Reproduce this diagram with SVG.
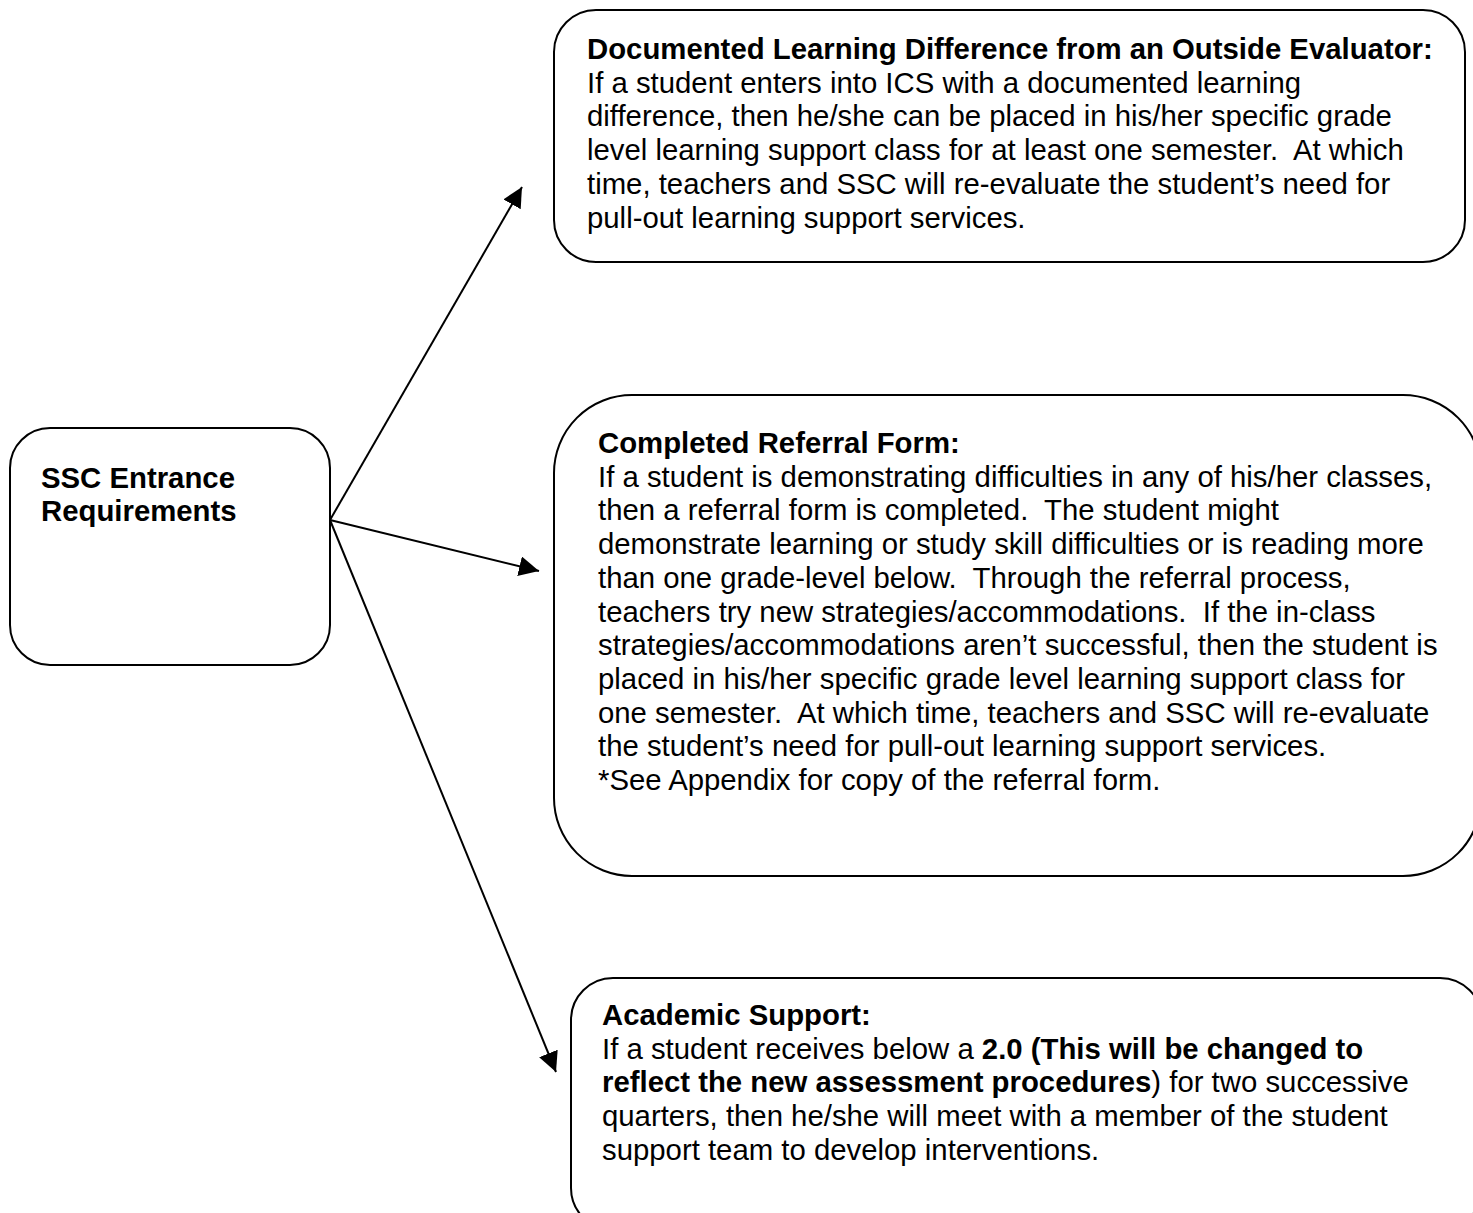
<svg xmlns="http://www.w3.org/2000/svg" width="1473" height="1213" viewBox="0 0 1473 1213">
<style>
.box{fill:#fff;stroke:#000;stroke-width:2}
.t{font-family:"Liberation Sans",Arial,Helvetica,sans-serif;font-size:29.33px;fill:#000;white-space:pre}
.b{font-weight:bold}
.c{stroke:#000;stroke-width:2;fill:none}
</style>
<defs>
<marker id="ah" markerUnits="userSpaceOnUse" markerWidth="22" markerHeight="22" refX="20" refY="10" orient="auto" viewBox="0 0 22 22">
<path d="M0,0 L20,10 L0,20 z" fill="#000"/>
</marker>
</defs>
<rect width="1473" height="1213" fill="#fff"/>
<g id="n-ssc">
<rect class="box" x="10" y="428" width="320" height="237" rx="40"/>
<text class="t b" x="41" y="488">SSC Entrance</text>
<text class="t b" x="41" y="521">Requirements</text>
</g>
<g id="n-documented">
<rect class="box" x="554" y="10" width="911" height="252" rx="42"/>
<text class="t" x="587" y="59"><tspan class="b">Documented Learning Difference from an Outside Evaluator:</tspan><tspan x="587" dy="33.7">If a student enters into ICS with a documented learning</tspan><tspan x="587" dy="33.7">difference, then he/she can be placed in his/her specific grade</tspan><tspan x="587" dy="33.7">level learning support class for at least one semester.  At which</tspan><tspan x="587" dy="33.7">time, teachers and SSC will re-evaluate the student’s need for</tspan><tspan x="587" dy="33.7">pull-out learning support services.</tspan></text>
</g>
<g id="n-referral">
<rect class="box" x="554" y="395" width="927" height="481" rx="78"/>
<text class="t" x="598" y="453"><tspan class="b">Completed Referral Form:</tspan><tspan x="598" dy="33.7">If a student is demonstrating difficulties in any of his/her classes,</tspan><tspan x="598" dy="33.7">then a referral form is completed.  The student might</tspan><tspan x="598" dy="33.7">demonstrate learning or study skill difficulties or is reading more</tspan><tspan x="598" dy="33.7">than one grade-level below.  Through the referral process,</tspan><tspan x="598" dy="33.7">teachers try new strategies/accommodations.  If the in-class</tspan><tspan x="598" dy="33.7">strategies/accommodations aren’t successful, then the student is</tspan><tspan x="598" dy="33.7">placed in his/her specific grade level learning support class for</tspan><tspan x="598" dy="33.7">one semester.  At which time, teachers and SSC will re-evaluate</tspan><tspan x="598" dy="33.7">the student’s need for pull-out learning support services.</tspan><tspan x="598" dy="33.7">*See Appendix for copy of the referral form.</tspan></text>
</g>
<g id="n-academic">
<rect class="box" x="571" y="978" width="911" height="252" rx="42"/>
<text class="t" x="602" y="1025"><tspan class="b">Academic Support:</tspan><tspan x="602" dy="33.7">If a student receives below a </tspan><tspan class="b">2.0 (This will be changed to</tspan><tspan x="602" dy="33.7" class="b">reflect the new assessment procedures</tspan><tspan>) for two successive</tspan><tspan x="602" dy="33.7">quarters, then he/she will meet with a member of the student</tspan><tspan x="602" dy="33.7">support team to develop interventions.</tspan></text>
</g>
<g id="connectors">
<line class="c" x1="330" y1="520" x2="522" y2="187" marker-end="url(#ah)"/>
<line class="c" x1="330" y1="520" x2="539" y2="571" marker-end="url(#ah)"/>
<line class="c" x1="330" y1="520" x2="556" y2="1072" marker-end="url(#ah)"/>
</g>
</svg>
